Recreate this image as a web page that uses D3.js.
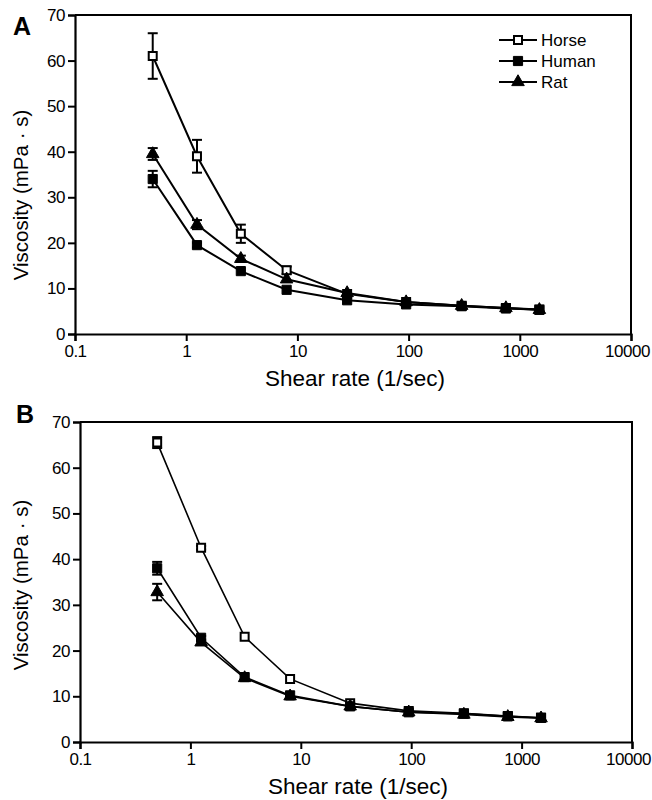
<!DOCTYPE html>
<html>
<head>
<meta charset="utf-8">
<script src="https://cdn.jsdelivr.net/npm/d3@7"></script>
<style>
  body { margin: 0; background: #fff; }
  text { font-family: "Liberation Sans", Arial, sans-serif; fill: #000; }
</style>
</head>
<body>
<div id="chart"></div>
<script>
// shear rates (1/sec), shared by both panels
const shearRate = [0.5, 1.25, 3.1, 8, 28, 95, 300, 750, 1500];
const xTicks = [0.1, 1, 10, 100, 1000, 10000];
const yTicks = [0, 10, 20, 30, 40, 50, 60, 70];
const speciesNames = ["Horse", "Human", "Rat"];

// panel A values and SEM
const horseA = [61, 39, 22, 14, 8.8, 7.0, 6.2, 5.7, 5.4];
const horseErrA = [5, 3.6, 2, 0.8, 0, 0, 0, 0, 0];
const humanA = [34, 19.5, 13.8, 9.7, 7.4, 6.5, 6.1, 5.6, 5.3];
const humanErrA = [1.8, 0.5, 0, 0, 0, 0, 0, 0, 0];
const ratA = [39.5, 24, 16.5, 12, 9.0, 7.0, 6.2, 5.7, 5.3];
const ratErrA = [1.3, 1.0, 0.7, 0, 0, 0, 0, 0, 0];

// panel B values and SEM
const horseB = [65.5, 42.5, 23, 13.8, 8.5, 6.8, 6.3, 5.7, 5.3];
const horseErrB = [1.2, 0.4, 0, 0, 0, 0, 0, 0, 0];
const humanB = [38, 22.8, 14.2, 10.2, 7.8, 6.5, 6.2, 5.6, 5.3];
const humanErrB = [1.4, 0.4, 0, 0, 0, 0, 0, 0, 0];
const ratB = [32.8, 21.8, 14, 10, 7.8, 6.5, 6.0, 5.5, 5.2];
const ratErrB = [1.8, 0.4, 0, 0, 0, 0, 0, 0, 0];

const svg = d3.select("#chart").append("svg")
  .attr("width", 652)
  .attr("height", 800);

function symbolFor(name) {
  if (name === "Rat") return d3.symbol().type(d3.symbolTriangle).size(68)();
  return d3.symbol().type(d3.symbolSquare).size(name === "Horse" ? 64 : 84)();
}

function drawPanel(cfg) {
  const x = d3.scaleLog().domain([0.1, 10000]).range(cfg.xRange);
  const y = d3.scaleLinear().domain([0, 70]).range(cfg.yRange);
  const g = svg.append("g");

  // frame (top + right)
  g.append("path")
    .attr("d", `M${cfg.xRange[0]},${cfg.yRange[1]}H${cfg.xRange[1]}V${cfg.yRange[0]}`)
    .attr("fill", "none").attr("stroke", "#000").attr("stroke-width", 2);

  const xAxis = g.append("g")
    .attr("transform", `translate(0,${cfg.yRange[0]})`)
    .call(d3.axisBottom(x).tickValues(xTicks).tickSize(7).tickPadding(4)
      .tickFormat(d => d < 1 ? "0.1" : d3.format("d")(d)));
  const yAxis = g.append("g")
    .attr("transform", `translate(${cfg.xRange[0]},0)`)
    .call(d3.axisLeft(y).tickValues(yTicks).tickSize(7).tickPadding(3));
  [xAxis, yAxis].forEach(a => {
    a.select(".domain").attr("stroke-width", 2.2);
    a.selectAll(".tick line").attr("stroke-width", 2);
    a.selectAll(".tick text").style("font-size", "17px")
      .style("letter-spacing", "-0.5px").attr("fill", "#000");
  });
  // last label sits on the window edge
  xAxis.selectAll(".tick text").filter(d => d === 10000).attr("dx", -4);

  g.append("text")
    .attr("x", (cfg.xRange[0] + cfg.xRange[1]) / 2 + 2)
    .attr("y", cfg.yRange[0] + 52)
    .attr("text-anchor", "middle")
    .style("font-size", "22.5px")
    .text("Shear rate (1/sec)");

  g.append("text")
    .attr("transform", `translate(28,${cfg.yTitleY}) rotate(-90)`)
    .attr("text-anchor", "middle")
    .style("font-size", "20.5px")
    .text("Viscosity (mPa · s)");

  g.append("text")
    .attr("x", cfg.letterX).attr("y", cfg.letterY)
    .style("font-size", "25px").style("font-weight", "bold")
    .text(cfg.letter);

  const line = d3.line().x(d => x(d.rate)).y(d => y(d.v));

  cfg.series.forEach(s => {
    const pts = shearRate.map((r, i) => ({ rate: r, v: s.values[i], e: s.errs[i] }));
    const sg = g.append("g");
    sg.append("path").datum(pts)
      .attr("d", line).attr("fill", "none")
      .attr("stroke", "#000").attr("stroke-width", cfg.lineWidth);

    const eb = sg.selectAll("g.err").data(pts.filter(d => d.e > 0)).enter()
      .append("g").attr("class", "err").attr("stroke", "#000").attr("stroke-width", 2);
    eb.append("line")
      .attr("x1", d => x(d.rate)).attr("x2", d => x(d.rate))
      .attr("y1", d => y(d.v - d.e)).attr("y2", d => y(d.v + d.e));
    eb.append("line")
      .attr("x1", d => x(d.rate) - 5).attr("x2", d => x(d.rate) + 5)
      .attr("y1", d => y(d.v + d.e)).attr("y2", d => y(d.v + d.e));
    eb.append("line")
      .attr("x1", d => x(d.rate) - 5).attr("x2", d => x(d.rate) + 5)
      .attr("y1", d => y(d.v - d.e)).attr("y2", d => y(d.v - d.e));

    sg.selectAll("path.mark").data(pts).enter()
      .append("path").attr("class", "mark")
      .attr("d", symbolFor(s.name))
      .attr("transform", d => `translate(${x(d.rate)},${y(d.v)})`)
      .attr("fill", s.name === "Horse" ? "#fff" : "#000")
      .attr("stroke", "#000").attr("stroke-width", s.name === "Horse" ? 2 : 1);
  });

  if (cfg.legend) {
    const lg = g.append("g");
    speciesNames.forEach((name, i) => {
      const yy = 40 + i * 21;
      lg.append("line").attr("x1", 499).attr("x2", 537).attr("y1", yy).attr("y2", yy)
        .attr("stroke", "#000").attr("stroke-width", 2);
      lg.append("path").attr("d", symbolFor(name))
        .attr("transform", `translate(518,${yy})`)
        .attr("fill", name === "Horse" ? "#fff" : "#000")
        .attr("stroke", "#000").attr("stroke-width", name === "Horse" ? 2 : 1);
      lg.append("text").attr("x", 541).attr("y", yy + 6)
        .style("font-size", "17px").text(name);
    });
  }
}

drawPanel({
  letter: "A", letterX: 13, letterY: 35,
  xRange: [75, 631], yRange: [334, 15], yTitleY: 195,
  lineWidth: 2, legend: true,
  series: [
    { name: "Horse", values: horseA, errs: horseErrA },
    { name: "Rat", values: ratA, errs: ratErrA },
    { name: "Human", values: humanA, errs: humanErrA }
  ]
});

drawPanel({
  letter: "B", letterX: 16, letterY: 423,
  xRange: [80, 632], yRange: [742, 422], yTitleY: 585,
  lineWidth: 1.6, legend: false,
  series: [
    { name: "Horse", values: horseB, errs: horseErrB },
    { name: "Rat", values: ratB, errs: ratErrB },
    { name: "Human", values: humanB, errs: humanErrB }
  ]
});
</script>
</body>
</html>
